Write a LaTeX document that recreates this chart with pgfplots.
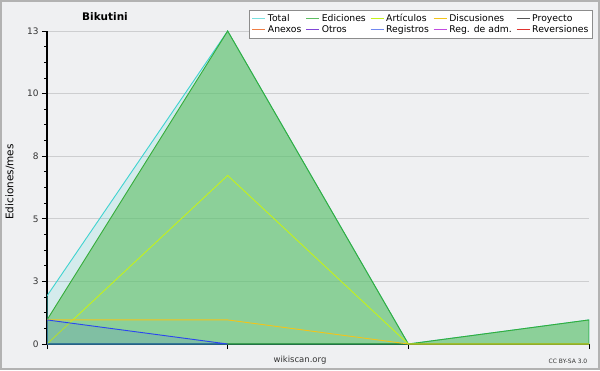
\documentclass[border=0pt]{standalone}
\usepackage{fontspec}
\setmainfont{DejaVu Sans}
\usepackage{pgfplots}
\pgfplotsset{compat=1.18}
\definecolor{bg}{HTML}{EFF0F2}
\definecolor{cTotal}{HTML}{3FD3D0}
\definecolor{cEd}{HTML}{35AC3A}
\definecolor{cEdFill}{HTML}{5CBF63}
\definecolor{cArt}{HTML}{C4F21A}
\definecolor{cDisc}{HTML}{F2C41A}
\definecolor{cProy}{HTML}{555555}
\definecolor{cAnex}{HTML}{F07E45}
\definecolor{cOtros}{HTML}{8046D6}
\definecolor{cReg}{HTML}{2A45F0}
\definecolor{cRegL}{HTML}{7088F0}
\definecolor{cAdm}{HTML}{C24BE0}
\definecolor{cRev}{HTML}{E0332F}
\definecolor{gridc}{HTML}{CDCED0}
\pgfplotsset{lg/.style={legend image code/.code={\draw[line width=1.4bp, draw=#1] (0bp,0.5bp) -- (13bp,0.5bp);}}}
\begin{document}
\begin{tikzpicture}[x=1bp,y=1bp]
\fill[bg] (0,0) rectangle (600,370);
\draw[color=black!30, line width=2bp] (1,1) rectangle (599,369);
\begin{axis}[
  at={(47bp,26bp)}, anchor=south west, scale only axis,
  width=542bp, height=313bp,
  xmin=0, xmax=3, ymin=0, ymax=13,
  axis x line*=bottom, axis y line*=left,
  axis line style={black, line width=1.2bp},
  xtick={0,1,2,3}, xticklabels={},
  ytick={0,2.6,5.2,7.8,10.4,13},
  yticklabels={0,3,5,8,10,13},
  minor y tick num=3,
  tick align=outside,
  major tick length=5bp, minor tick length=3bp,
  tick style={black, line width=0.8bp},
  ymajorgrids, major grid style={gridc, line width=0.8bp},
  ticklabel style={font=\fontsize{9}{10}\selectfont, text=black!80},
  /pgf/number format/assume math mode=true,
  legend columns=5,
  legend style={at={(1.0074,1.0671)}, anchor=north east, fill=white,
    draw=black!45, line width=1.2bp, font=\fontsize{9.3}{10}\selectfont,
    inner sep=2bp, row sep=-1.8bp,
    /tikz/every even column/.append style={column sep=2bp}},
  legend cell align=left,
]
\addplot[forget plot, draw=cTotal, line width=0.9bp, fill=cTotal, fill opacity=0.15]
  coordinates {(0,2) (1,13) (2,0) (3,1)} \closedcycle;
\addplot[forget plot, draw=cEd, line width=0.9bp, fill=cEdFill, fill opacity=0.6]
  coordinates {(0,1) (1,13) (2,0) (3,1)} \closedcycle;
\addplot[forget plot, draw=cArt, line width=0.9bp]
  coordinates {(0,0) (1,7) (2,0) (3,0)};
\addplot[forget plot, draw=cDisc, line width=0.9bp]
  coordinates {(0,1) (1,1) (2,0) (3,0)};
\addplot[forget plot, draw=cReg, line width=0.9bp, fill=cReg, fill opacity=0.12]
  coordinates {(0,1) (1,0)} \closedcycle;
\addlegendimage{lg=cTotal!70}\addlegendentry{Total}
\addlegendimage{lg=cEd!80}\addlegendentry{Ediciones}
\addlegendimage{lg=cArt}\addlegendentry{Artículos}
\addlegendimage{lg=cDisc}\addlegendentry{Discusiones}
\addlegendimage{lg=cProy}\addlegendentry{Proyecto}
\addlegendimage{lg=cAnex}\addlegendentry{Anexos}
\addlegendimage{lg=cOtros}\addlegendentry{Otros}
\addlegendimage{lg=cRegL}\addlegendentry{Registros}
\addlegendimage{lg=cAdm}\addlegendentry{Reg. de adm.}
\addlegendimage{lg=cRev}\addlegendentry{Reversiones}
\end{axis}
\node[font=\bfseries\fontsize{10.5}{12}\selectfont] at (105,353) {Bikutini};
\node[rotate=90, font=\fontsize{10.5}{12}\selectfont] at (10,188) {Ediciones/mes};
\node[font=\fontsize{8.5}{10}\selectfont, text=black!80] at (300,10) {wikiscan.org};
\node[font=\fontsize{6}{7}\selectfont, text=black!80] at (568,9) {CC BY-SA 3.0};
\end{tikzpicture}
\end{document}
